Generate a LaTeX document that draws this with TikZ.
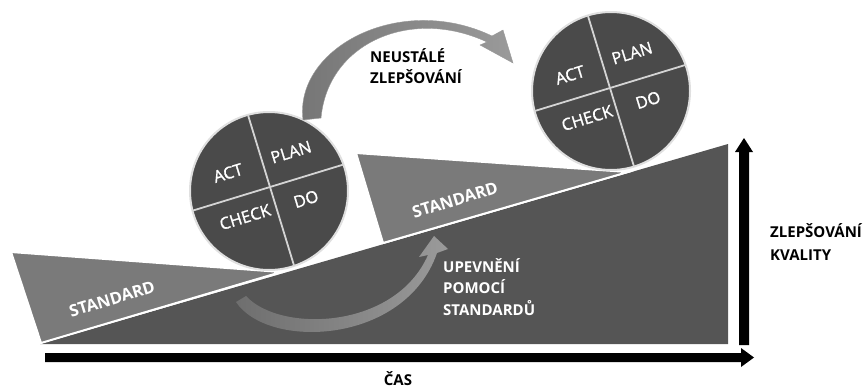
\documentclass[tikz,border=0pt]{standalone}
\usepackage{fontspec}
\setmainfont{Open Sans}
\newfontfamily\pdcafont[FakeBold=1.2]{Open Sans}
\usetikzlibrary{calc}
\definecolor{rampcol}{HTML}{555555}
\definecolor{stdcol}{HTML}{7A7A7A}
\definecolor{pdcacol}{HTML}{4A4A4A}
\definecolor{crosscol}{HTML}{D4D4D4}
\definecolor{arrowA}{HTML}{757575}
\definecolor{arrowB}{HTML}{9A9A9A}
\tikzset{
  pdca/.style={circle, fill=pdcacol, draw=black!12, line width=2pt, minimum size=158pt, inner sep=0pt},
  pdcalbl/.style={text=white, font=\pdcafont\fontsize{16.5}{18}\selectfont, rotate=17, inner sep=0pt},
  stdlbl/.style={text=white, font=\bfseries\fontsize{16.5}{18}\selectfont, rotate=17, inner sep=0pt},
  blacklbl/.style={text=black, font=\bfseries\fontsize{15}{21}\selectfont, align=left, inner sep=0pt},
  whitelbl/.style={text=white, font=\bfseries\fontsize{15}{21.5}\selectfont, align=left, inner sep=0pt},
  crossline/.style={draw=crosscol, line width=1.8pt}
}
\begin{document}
\begin{tikzpicture}[x=1pt, y=-1pt]
\useasboundingbox (0,0) rectangle (866,388);
% ramp
\fill[rampcol] (40,344) -- (728,344) -- (728,144) -- cycle;
% standard triangles
\fill[stdcol, draw=white, line width=2pt, line join=miter] (11,252) -- (41,343) -- (281,272) -- cycle;
\fill[stdcol, draw=white, line width=2pt] (356,153) -- (383,243) -- (628,172) -- cycle;
\node[stdlbl] (std1) at (112,299) {STANDARD};
\node[stdlbl] (std2) at (455,200) {STANDARD};
% lower arrow
\shade[left color=rampcol!85!white, right color=arrowB]
  (246,296) -- (236,302) .. controls (268,350) and (405,345) .. (437,253)
  -- (448,249) -- (434,236) -- (419,257) -- (428,255)
  .. controls (395,330) and (280,333) .. (246,296) -- cycle;
% circle 1
\node[pdca] (c1) at (269,191) {};
\begin{scope}
  \clip (269,191) circle (79);
  \begin{scope}[shift={(270,187)}, rotate=17]
    \draw[crossline] (-95,0) -- (95,0);
    \draw[crossline] (0,-95) -- (0,95);
  \end{scope}
\end{scope}
\node[pdcalbl] (act1) at (228,173) {ACT};
\node[pdcalbl] (plan1) at (291,152) {PLAN};
\node[pdcalbl] (check1) at (245,217) {CHECK};
\node[pdcalbl] (do1) at (306,199) {DO};
% circle 2
\node[pdca] (c2) at (611,91) {};
\begin{scope}
  \clip (611,91) circle (79);
  \begin{scope}[shift={(610,88)}, rotate=17]
    \draw[crossline] (-95,0) -- (95,0);
    \draw[crossline] (0,-95) -- (0,95);
  \end{scope}
\end{scope}
\node[pdcalbl] (act2) at (570,75) {ACT};
\node[pdcalbl] (plan2) at (632,53) {PLAN};
\node[pdcalbl] (check2) at (587,118) {CHECK};
\node[pdcalbl] (do2) at (648,100) {DO};
% top arrow
\shade[left color=arrowA, right color=arrowB, draw=black!40, line width=0.4pt]
  (303,120) .. controls (294,48) and (400,-8) .. (492,36)
  -- (503,30) -- (513,63) -- (480,45) -- (487,42)
  .. controls (412,7) and (328,42) .. (321,118) -- cycle;
% texts
\node[blacklbl, anchor=west] (neu) at (370,66) {NEUSTÁLÉ\\ZLEPŠOVÁNÍ};
\node[whitelbl, anchor=west] (upe) at (443,287) {UPEVNĚNÍ\\POMOCÍ\\STANDARDŮ};
\node[blacklbl, anchor=west, font=\bfseries\fontsize{15}{23}\selectfont] (kval) at (770,242) {ZLEPŠOVÁNÍ\\KVALITY};
\node[blacklbl, anchor=center] (cas) at (398,379) {ČAS};
% axes
\fill[black] (45,353) -- (741,353) -- (741,348) -- (754,357.5) -- (741,367) -- (741,362) -- (45,362) -- cycle;
\fill[black] (739,345) -- (739,152) -- (735,152) -- (744,138) -- (753,152) -- (749,152) -- (749,345) -- cycle;
\end{tikzpicture}
\end{document}
